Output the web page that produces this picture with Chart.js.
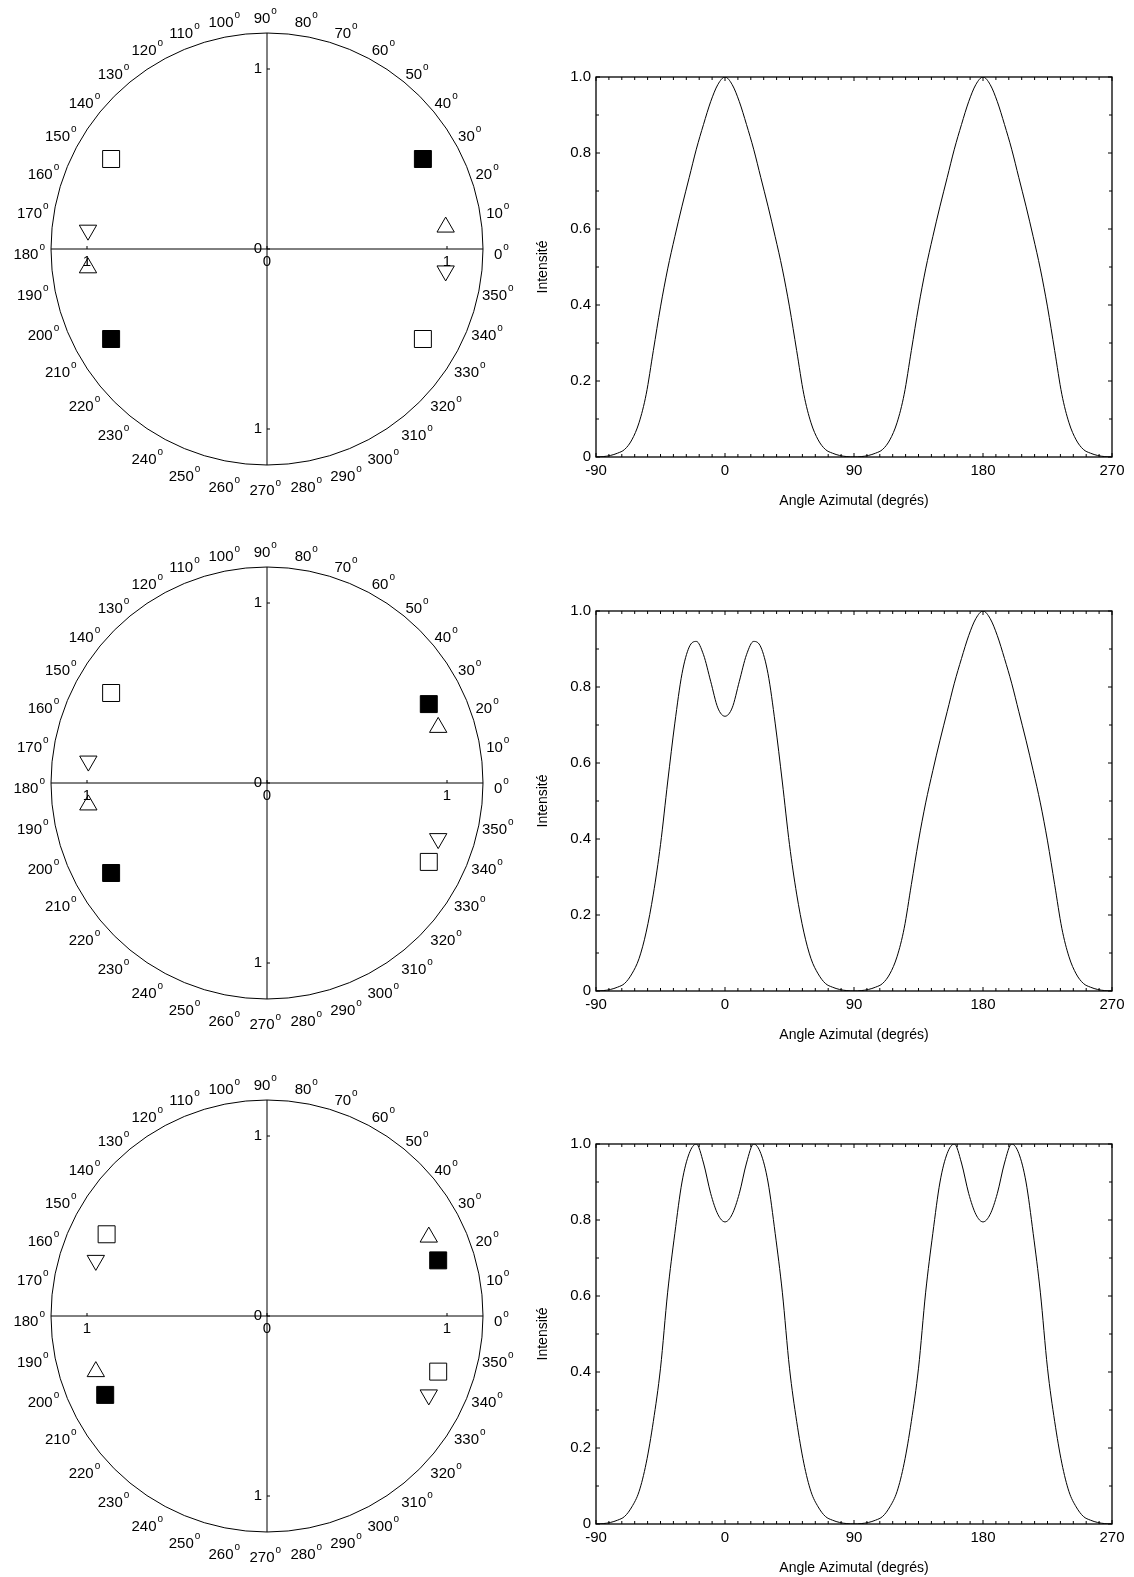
<!DOCTYPE html>
<html>
<head>
<meta charset="utf-8">
<script src="https://cdn.jsdelivr.net/npm/chart.js@4.4.1/dist/chart.umd.min.js"></script>
<style>
html, body { margin: 0; padding: 0; background: #fff; overflow: hidden; }
.row { position: absolute; left: 0; width: 1134px; height: 534px; }
.polar { position: absolute; left: 0; top: 0; }
.profile { position: absolute; left: 520px; top: 0; }
</style>
</head>
<body>
<div class="row" style="top:0px">
  <canvas id="polar1" class="polar" width="540" height="534"></canvas>
  <canvas id="profile1" class="profile" width="614" height="534"></canvas>
</div>
<div class="row" style="top:534px">
  <canvas id="polar2" class="polar" width="540" height="534"></canvas>
  <canvas id="profile2" class="profile" width="614" height="534"></canvas>
</div>
<div class="row" style="top:1067px">
  <canvas id="polar3" class="polar" width="540" height="534"></canvas>
  <canvas id="profile3" class="profile" width="614" height="534"></canvas>
</div>
<script>
// azimuthal profiles, read every 5 degrees
var angles = [-90, -85, -80, -75, -70, -65, -60, -55, -50, -45, -40, -35, -30, -25, -20, -15, -10, -5, 0,
  5, 10, 15, 20, 25, 30, 35, 40, 45, 50, 55, 60, 65, 70, 75, 80, 85, 90,
  95, 100, 105, 110, 115, 120, 125, 130, 135, 140, 145, 150, 155, 160, 165, 170, 175, 180,
  185, 190, 195, 200, 205, 210, 215, 220, 225, 230, 235, 240, 245, 250, 255, 260, 265, 270];

var intensity1 = [0, 0.001, 0.004, 0.01, 0.02, 0.045, 0.09, 0.165, 0.28, 0.395, 0.495, 0.58, 0.66, 0.735, 0.81, 0.875, 0.935, 0.98, 1,
  0.98, 0.935, 0.875, 0.81, 0.735, 0.66, 0.58, 0.495, 0.395, 0.28, 0.165, 0.09, 0.045, 0.02, 0.01, 0.004, 0.001, 0,
  0.001, 0.004, 0.01, 0.02, 0.045, 0.09, 0.165, 0.28, 0.395, 0.495, 0.58, 0.66, 0.735, 0.81, 0.875, 0.935, 0.98, 1,
  0.98, 0.935, 0.875, 0.81, 0.735, 0.66, 0.58, 0.495, 0.395, 0.28, 0.165, 0.09, 0.045, 0.02, 0.01, 0.004, 0.001, 0];

var intensity2 = [0, 0.001, 0.004, 0.01, 0.02, 0.045, 0.085, 0.155, 0.255, 0.385, 0.55, 0.705, 0.835, 0.905, 0.92, 0.885, 0.815, 0.745, 0.723,
  0.745, 0.815, 0.885, 0.92, 0.905, 0.835, 0.705, 0.55, 0.385, 0.255, 0.155, 0.085, 0.045, 0.02, 0.01, 0.004, 0.001, 0,
  0.001, 0.004, 0.01, 0.02, 0.045, 0.09, 0.165, 0.28, 0.395, 0.495, 0.58, 0.66, 0.735, 0.81, 0.875, 0.935, 0.98, 1,
  0.98, 0.935, 0.875, 0.81, 0.735, 0.66, 0.58, 0.495, 0.395, 0.28, 0.165, 0.09, 0.045, 0.02, 0.01, 0.004, 0.001, 0];

var intensity3 = [0, 0.001, 0.004, 0.01, 0.02, 0.045, 0.085, 0.16, 0.27, 0.41, 0.61, 0.765, 0.9, 0.975, 1, 0.95, 0.87, 0.815, 0.795,
  0.815, 0.87, 0.95, 1, 0.975, 0.9, 0.765, 0.61, 0.41, 0.27, 0.16, 0.085, 0.045, 0.02, 0.01, 0.004, 0.001, 0,
  0.001, 0.004, 0.01, 0.02, 0.045, 0.085, 0.16, 0.27, 0.41, 0.61, 0.765, 0.9, 0.975, 1, 0.95, 0.87, 0.815, 0.795,
  0.815, 0.87, 0.95, 1, 0.975, 0.9, 0.765, 0.61, 0.41, 0.27, 0.16, 0.085, 0.045, 0.02, 0.01, 0.004, 0.001, 0];

var xTickLabels = [-90, 0, 90, 180, 270];
var yTickLabels = [0, 0.2, 0.4, 0.6, 0.8, 1.0];

// pole figures: marker angles in degrees, all at radius 1
var filledSquares1 = [30, 210];
var openSquares1 = [150, 330];
var upTriangles1 = [7, 186];
var downTriangles1 = [174, 353];

var filledSquares2 = [26, 210];
var openSquares2 = [150, 334];
var upTriangles2 = [18, 187];
var downTriangles2 = [173, 342];

var filledSquares3 = [18, 206];
var openSquares3 = [153, 342];
var upTriangles3 = [26, 198];
var downTriangles3 = [162, 334];

var markerRadius = 1;
var rMax = 1.2;
var radialTicks = [-1, 0, 1];
var angleLabels = [0, 10, 20, 30, 40, 50, 60, 70, 80, 90, 100, 110, 120, 130, 140, 150, 160, 170,
  180, 190, 200, 210, 220, 230, 240, 250, 260, 270, 280, 290, 300, 310, 320, 330, 340, 350];

var FAMILY = '"Liberation Sans", Arial, Helvetica, sans-serif';

function toXY(list) {
  return list.map(function (a) {
    var t = a * Math.PI / 180;
    return { x: markerRadius * Math.cos(t), y: markerRadius * Math.sin(t) };
  });
}

// circle, cross axes, radial tick labels and the degree ring
var polarFrame = {
  id: 'polarFrame',
  beforeDatasetsDraw: function (chart) {
    var ctx = chart.ctx, sx = chart.scales.x, sy = chart.scales.y;
    var cx = sx.getPixelForValue(0), cy = sy.getPixelForValue(0);
    var R = sx.getPixelForValue(rMax) - cx;
    ctx.save();
    ctx.strokeStyle = '#000';
    ctx.fillStyle = '#000';
    ctx.lineWidth = 1;
    ctx.beginPath();
    ctx.arc(cx, cy, R, 0, 2 * Math.PI);
    ctx.stroke();
    ctx.beginPath();
    ctx.moveTo(sx.getPixelForValue(-rMax), cy);
    ctx.lineTo(sx.getPixelForValue(rMax), cy);
    ctx.moveTo(cx, sy.getPixelForValue(rMax));
    ctx.lineTo(cx, sy.getPixelForValue(-rMax));
    ctx.stroke();

    ctx.font = '15px ' + FAMILY;
    radialTicks.forEach(function (v) {
      var px = sx.getPixelForValue(v), py = sy.getPixelForValue(v);
      ctx.beginPath();
      ctx.moveTo(px, cy); ctx.lineTo(px, cy - 3);
      ctx.moveTo(cx, py); ctx.lineTo(cx + 3, py);
      ctx.stroke();
      var txt = String(Math.abs(v));
      ctx.textAlign = 'center';
      ctx.textBaseline = 'top';
      ctx.fillText(txt, px, cy + 5);
      ctx.textAlign = 'right';
      ctx.textBaseline = 'middle';
      ctx.fillText(txt, cx - 5, py);
    });

    // degree labels: ring slightly off-centre, as in the original figure
    var ring = R * 1.093;
    angleLabels.forEach(function (a) {
      var t = a * Math.PI / 180;
      var nx = cx - 5 + ring * Math.cos(t);
      var ny = cy + 5 - ring * Math.sin(t);
      var num = String(a);
      ctx.font = '15px ' + FAMILY;
      var wn = ctx.measureText(num).width;
      var base = ny + 5.4;
      ctx.textAlign = 'center';
      ctx.textBaseline = 'alphabetic';
      ctx.fillText(num, nx, base);
      ctx.font = '10px ' + FAMILY;
      ctx.textAlign = 'left';
      ctx.fillText('o', nx + wn / 2 + 1, base - 9);
    });
    ctx.restore();
  }
};

function makePolar(id, filled, open, up, down) {
  new Chart(document.getElementById(id), {
    type: 'scatter',
    data: {
      datasets: [
        { data: toXY(filled), pointStyle: 'rect', pointRadius: 12, backgroundColor: '#000', borderColor: '#000', borderWidth: 1 },
        { data: toXY(open), pointStyle: 'rect', pointRadius: 12, backgroundColor: 'rgba(0,0,0,0)', borderColor: '#000', borderWidth: 1 },
        { data: toXY(up), pointStyle: 'triangle', pointRadius: 10, backgroundColor: 'rgba(0,0,0,0)', borderColor: '#000', borderWidth: 1 },
        { data: toXY(down), pointStyle: 'triangle', pointRotation: 180, pointRadius: 10, backgroundColor: 'rgba(0,0,0,0)', borderColor: '#000', borderWidth: 1 }
      ]
    },
    options: {
      responsive: false,
      animation: false,
      events: [],
      layout: { padding: { left: 51, right: 57, top: 33, bottom: 69 } },
      plugins: { legend: { display: false }, tooltip: { enabled: false } },
      scales: {
        x: { type: 'linear', min: -rMax, max: rMax, display: false },
        y: { type: 'linear', min: -rMax, max: rMax, display: false }
      }
    },
    plugins: [polarFrame]
  });
}

// frame with inward major and minor ticks on all four sides
var boxTicks = {
  id: 'boxTicks',
  afterDraw: function (chart) {
    var ctx = chart.ctx, a = chart.chartArea, sx = chart.scales.x, sy = chart.scales.y;
    ctx.save();
    ctx.strokeStyle = '#000';
    ctx.lineWidth = 1.3;
    ctx.strokeRect(a.left, a.top, a.right - a.left, a.bottom - a.top);
    ctx.lineWidth = 1;
    ctx.beginPath();
    var v, p, len;
    for (v = sx.min; v <= sx.max + 1e-6; v += 9) {
      p = sx.getPixelForValue(v);
      len = xTickLabels.indexOf(Math.round(v)) >= 0 ? 4 : 3;
      ctx.moveTo(p, a.bottom); ctx.lineTo(p, a.bottom - len);
      ctx.moveTo(p, a.top); ctx.lineTo(p, a.top + len);
    }
    for (v = 0; v <= 10; v++) {
      p = sy.getPixelForValue(v / 10);
      len = v % 2 === 0 ? 4 : 3;
      ctx.moveTo(a.left, p); ctx.lineTo(a.left + len, p);
      ctx.moveTo(a.right, p); ctx.lineTo(a.right - len, p);
    }
    ctx.stroke();
    ctx.restore();
  }
};

function makeProfile(id, values) {
  new Chart(document.getElementById(id), {
    type: 'line',
    data: {
      datasets: [{
        data: angles.map(function (x, i) { return { x: x, y: values[i] }; }),
        borderColor: '#000',
        borderWidth: 1,
        pointRadius: 0,
        fill: false,
        cubicInterpolationMode: 'monotone'
      }]
    },
    options: {
      responsive: false,
      animation: false,
      events: [],
      layout: { padding: { left: 15, right: 22, top: 77, bottom: 24 } },
      plugins: { legend: { display: false }, tooltip: { enabled: false } },
      scales: {
        x: {
          type: 'linear', min: -90, max: 270,
          grid: { display: false, drawTicks: false },
          border: { display: false },
          afterBuildTicks: function (s) { s.ticks = xTickLabels.map(function (v) { return { value: v }; }); },
          afterFit: function (s) { s.height = 53; },
          ticks: { color: '#000', font: { size: 15, family: FAMILY }, padding: 5, maxRotation: 0, autoSkip: false },
          title: { display: true, text: 'Angle Azimutal (degrés)', color: '#000', font: { size: 14, family: FAMILY }, padding: 0 }
        },
        y: {
          type: 'linear', min: 0, max: 1,
          grid: { display: false, drawTicks: false },
          border: { display: false },
          afterBuildTicks: function (s) { s.ticks = yTickLabels.map(function (v) { return { value: v }; }); },
          afterFit: function (s) { s.width = 61; },
          ticks: {
            color: '#000', font: { size: 15, family: FAMILY }, padding: 5,
            callback: function (v) { return v === 0 ? '0' : Number(v).toFixed(1); }
          },
          title: { display: true, text: 'Intensité', color: '#000', font: { size: 14, family: FAMILY }, padding: 0 }
        }
      }
    },
    plugins: [boxTicks]
  });
}

makePolar('polar1', filledSquares1, openSquares1, upTriangles1, downTriangles1);
makePolar('polar2', filledSquares2, openSquares2, upTriangles2, downTriangles2);
makePolar('polar3', filledSquares3, openSquares3, upTriangles3, downTriangles3);
makeProfile('profile1', intensity1);
makeProfile('profile2', intensity2);
makeProfile('profile3', intensity3);
</script>
</body>
</html>
